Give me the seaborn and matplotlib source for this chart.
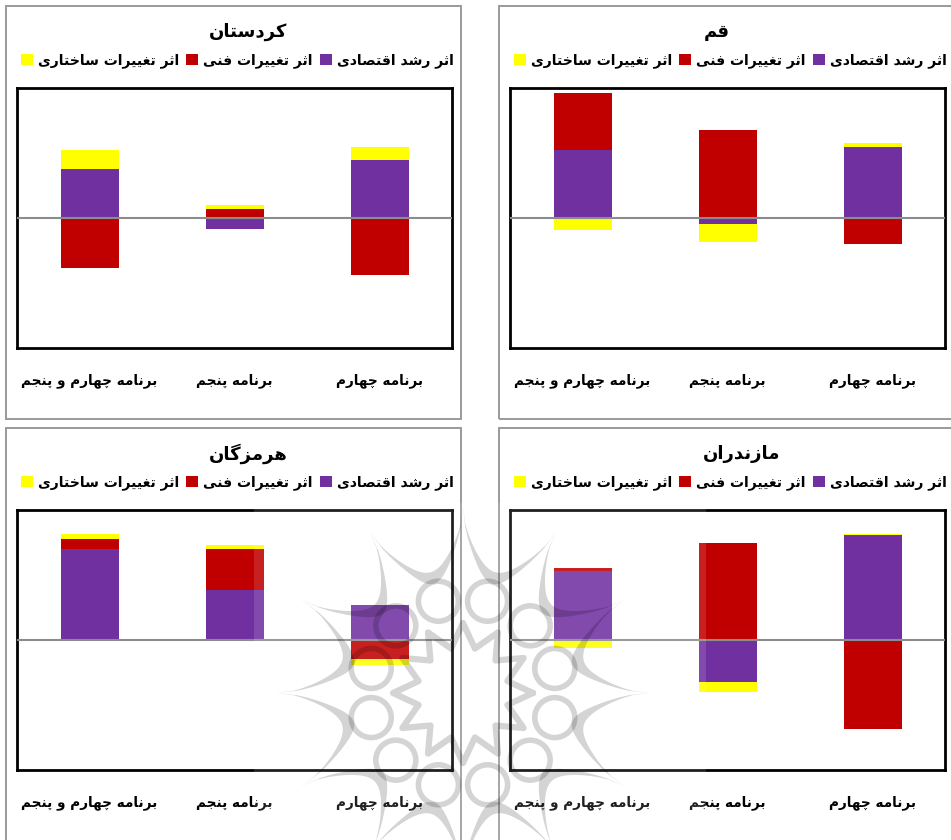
import matplotlib
matplotlib.use('Agg')
import matplotlib.pyplot as plt
from matplotlib.patches import Rectangle, Polygon, Circle
import numpy as np
import seaborn as sns

W, H = 951, 840

categories = ['برنامه چهارم و پنجم', 'برنامه پنجم', 'برنامه چهارم']
series_names = ['اثر رشد اقتصادی', 'اثر تغییرات فنی', 'اثر تغییرات ساختاری']
series_colors = ['#7030a0', '#c00000', '#ffff00']

# values, order follows categories
kordestan_econ = [49, -11, 58]
kordestan_tech = [-50, 9, -57]
kordestan_struct = [19, 4, 13]

qom_econ = [68, -6, 71]
qom_tech = [57, 88, -26]
qom_struct = [-12, -18, 4]

hormozgan_econ = [91, 50, 35]
hormozgan_tech = [10, 41, -19]
hormozgan_struct = [5, 4, -6]

mazandaran_econ = [69, -42, 105]
mazandaran_tech = [2.5, 97, -89]
mazandaran_struct = [-8, -10, 1]

# title, series, panel offset in pixels, title centre x
panels = [
    ('کردستان', [kordestan_econ, kordestan_tech, kordestan_struct], 0, 0, 248),
    ('قم', [qom_econ, qom_tech, qom_struct], 493, 0, 717),
    ('هرمزگان', [hormozgan_econ, hormozgan_tech, hormozgan_struct], 0, 422, 248),
    ('مازندران', [mazandaran_econ, mazandaran_tech, mazandaran_struct], 493, 422, 742),
]

# matplotlib has no arabic shaping, so pick the presentation forms by hand
four_forms = {'ب': 0xFE8F, 'پ': 0xFB56, 'ت': 0xFE95, 'ث': 0xFE99, 'ج': 0xFE9D, 'چ': 0xFB7A,
              'خ': 0xFEA5, 'س': 0xFEB1, 'ش': 0xFEB5, 'ص': 0xFEB9, 'غ': 0xFECD, 'ف': 0xFED1,
              'ق': 0xFED5, 'ک': 0xFB8E, 'گ': 0xFB92, 'م': 0xFEE1, 'ن': 0xFEE5, 'ه': 0xFEE9,
              'ی': 0xFBFC}
two_forms = {'ا': 0xFE8D, 'د': 0xFEA9, 'ر': 0xFEAD, 'ز': 0xFEAF, 'و': 0xFEED}


def shape(text):
    out = []
    for i, ch in enumerate(text):
        if ch not in four_forms and ch not in two_forms:
            out.append(ch)
            continue
        before = text[i - 1] if i > 0 else ' '
        after = text[i + 1] if i + 1 < len(text) else ' '
        joins_prev = before in four_forms
        joins_next = ch in four_forms and (after in four_forms or after in two_forms)
        if ch in two_forms:
            out.append(chr(two_forms[ch] + (1 if joins_prev else 0)))
        else:
            offset = 3 if joins_prev and joins_next else 1 if joins_prev else 2 if joins_next else 0
            out.append(chr(four_forms[ch] + offset))
    return ''.join(out[::-1])


sns.set_style('white')
plt.rcParams['font.family'] = ['DejaVu Sans']
plt.rcParams['font.weight'] = 'bold'
plt.rcParams['text.color'] = 'black'
plt.rcParams['xtick.labelcolor'] = 'black'

fig = plt.figure(figsize=(W / 100, H / 100), dpi=100, facecolor='white')


def fx(x):
    return x / W


def fy(y):
    return 1 - y / H


for title, values, dx, dy, title_x in panels:
    # outer grey box of each chart
    fig.add_artist(Rectangle((fx(6 + dx), fy(419 + dy)), 455 / W, 413 / H, transform=fig.transFigure,
                             facecolor='none', edgecolor='#9a9a9a', linewidth=1.4))
    ax = fig.add_axes([fx(17 + dx), fy(347.5 + dy), 435 / W, 259.5 / H])

    pos = np.zeros(3)
    neg = np.zeros(3)
    labels = [shape(c) for c in categories]
    for name, color, vals in zip(series_names, series_colors, values):
        vals = np.array(vals, dtype=float)
        bottom = np.where(vals >= 0, pos, neg)
        sns.barplot(x=labels, y=vals, bottom=bottom, color=color, saturation=1, width=0.4,
                    errorbar=None, label=shape(name), ax=ax, linewidth=0, legend=False)
        pos += np.clip(vals, 0, None)
        neg += np.clip(vals, None, 0)

    ax.axhline(0, color='#8c8c8c', linewidth=1.5, zorder=5)
    ax.set_xlim(-0.5, 2.5)
    ax.set_ylim(-130, 130)
    ax.set_yticks([])
    ax.tick_params(axis='x', length=0, pad=18.6, labelsize=9.8)
    for spine in ax.spines.values():
        spine.set_visible(True)
        spine.set_color('black')
        spine.set_linewidth(2)

    handles, names = ax.get_legend_handles_labels()
    fig.legend(handles[::-1], names[::-1], loc='center left',
               bbox_to_anchor=(fx(21 + dx), fy(61 + dy)), ncol=3, frameon=False, fontsize=10.1,
               handlelength=0.85, handleheight=0.85, handletextpad=0.36, columnspacing=0.5,
               borderpad=0, borderaxespad=0)
    fig.text(fx(title_x), fy(32 + dy), shape(title), ha='center', va='center', fontsize=13, fontweight='bold')

# watermark of the source page, a faded twelve pointed rosette
wm = fig.add_axes([0, 0, 1, 1], zorder=20)
wm.set_xlim(0, W)
wm.set_ylim(H, 0)
wm.axis('off')
wm.patch.set_alpha(0)
wm.add_patch(Rectangle((254, 503), 452, 337, facecolor='white', edgecolor='none', alpha=0.13))
cx, cy = 463, 693
ink = dict(color='black', alpha=0.17)
t = np.linspace(0, 1, 40)
for k in range(12):
    a0 = np.radians(30 * k)
    th = a0 + np.radians(30) * t
    r_out = 187 - 62 * np.sin(np.pi * t) ** 0.5
    r_in = 187 - 74 * np.sin(np.pi * t) ** 0.5
    xs = np.r_[cx + r_out * np.cos(th), (cx + r_in * np.cos(th))[::-1]]
    ys = np.r_[cy + r_out * np.sin(th), (cy + r_in * np.sin(th))[::-1]]
    wm.add_patch(Polygon(np.c_[xs, ys], facecolor='black', edgecolor='none', alpha=0.17))
    am = a0 + np.radians(15)
    wm.add_patch(Circle((cx + 95 * np.cos(am), cy + 95 * np.sin(am)), 20, facecolor='none',
                        edgecolor='black', alpha=0.17, linewidth=4))
zig = np.radians(np.arange(0, 361, 15))
zig_r = np.where(np.arange(len(zig)) % 2 == 0, 70, 46)
wm.plot(cx + zig_r * np.cos(zig), cy + zig_r * np.sin(zig), linewidth=4.5, **ink)

fig.savefig('out.png', dpi=100)
